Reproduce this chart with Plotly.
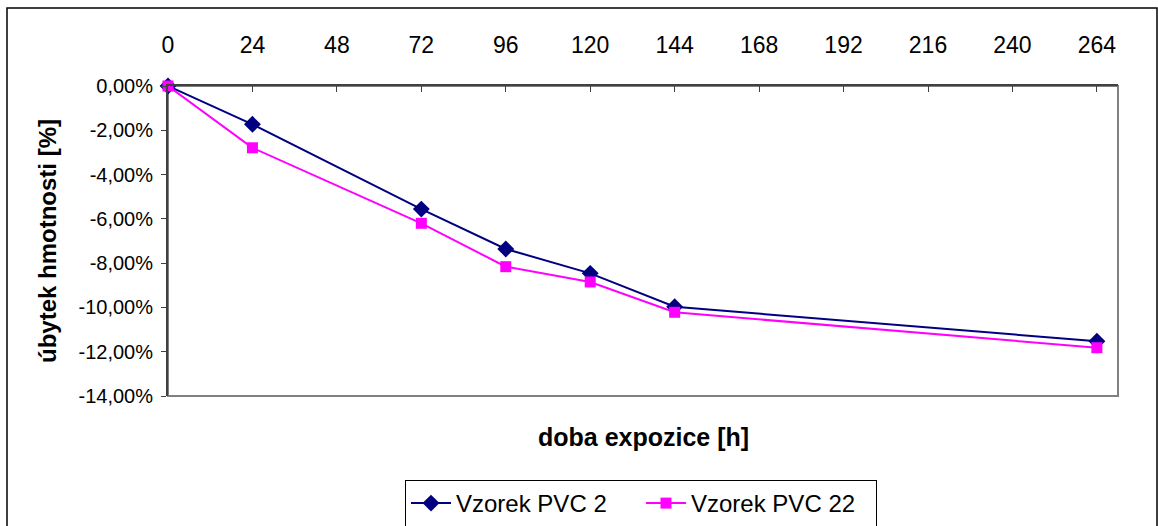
import plotly.graph_objects as go

# Exposure time [h] and mass loss [%]
hours = [0, 24, 72, 96, 120, 144, 264]
pvc_2 = [0.0, -1.73, -5.56, -7.36, -8.46, -9.97, -11.53]
pvc_22 = [0.0, -2.79, -6.20, -8.16, -8.85, -10.22, -11.82]

x_ticks = [0, 24, 48, 72, 96, 120, 144, 168, 192, 216, 240, 264]
y_ticks = [0, -2, -4, -6, -8, -10, -12, -14]
y_ticktext = [f"{v:.2f}".replace(".", ",") + "%" for v in y_ticks]

FONT = "Arial, Liberation Sans, sans-serif"

W, H = 1158, 526
L, R, T, B = 168, 40, 86, 130
PW, PH = W - L - R, H - T - B


def px(x):
    return (x - L) / PW


def py(y):
    return (H - B - y) / PH


fig = go.Figure()
fig.add_trace(go.Scatter(
    x=hours, y=pvc_2, name="Vzorek PVC 2", mode="lines+markers",
    line=dict(color="#000080", width=2),
    marker=dict(symbol="diamond", size=13, color="#000080"),
    cliponaxis=False,
))
fig.add_trace(go.Scatter(
    x=hours, y=pvc_22, name="Vzorek PVC 22", mode="lines+markers",
    line=dict(color="#FF00FF", width=2),
    marker=dict(symbol="square", size=11, color="#FF00FF"),
    cliponaxis=False,
))

fig.update_layout(
    width=W, height=H,
    margin=dict(l=L, r=R, t=T, b=B, autoexpand=False),
    paper_bgcolor="white", plot_bgcolor="white",
    font=dict(family=FONT, color="black"),
    showlegend=True,
    legend=dict(
        orientation="h", x=px(641), xanchor="center", y=py(480), yanchor="top",
        bordercolor="black", borderwidth=1, bgcolor="white",
        font=dict(size=24, family=FONT), itemwidth=40,
        entrywidth=180, entrywidthmode="pixels",
    ),
    xaxis=dict(
        side="top", range=[0, 270], tickvals=x_ticks,
        ticks="inside", ticklen=6, tickcolor="#404040", tickwidth=1,
        showline=True, linecolor="#404040", linewidth=2,
        showgrid=False, zeroline=False,
        tickfont=dict(size=23, family=FONT), ticklabelstandoff=22,
    ),
    yaxis=dict(
        range=[-14, 0], tickvals=y_ticks, ticktext=y_ticktext,
        ticks="outside", ticklen=5, tickcolor="#404040", tickwidth=1,
        showline=True, linecolor="#404040", linewidth=2,
        showgrid=False, zeroline=False,
        tickfont=dict(size=20, family=FONT), ticklabelstandoff=4,
    ),
    shapes=[
        # plot area frame (right and bottom edges in grey)
        dict(type="rect", xref="paper", yref="paper", x0=0, x1=1, y0=0, y1=1,
             line=dict(color="#808080", width=2), layer="below"),
        # chart outer border
        dict(type="rect", xref="paper", yref="paper",
             x0=px(7), x1=px(1157), y0=py(528), y1=py(8),
             line=dict(color="black", width=1.5)),
    ],
    annotations=[
        dict(text="<b>doba expozice [h]</b>", xref="paper", yref="paper",
             x=px(643), y=py(437), xanchor="center", yanchor="middle",
             showarrow=False, font=dict(size=25, family=FONT)),
        dict(text="<b>úbytek hmotnosti [%]</b>", xref="paper", yref="paper",
             x=px(47), y=py(241), xanchor="center", yanchor="middle",
             textangle=-90, showarrow=False, font=dict(size=24, family=FONT)),
    ],
)

fig.write_html("out.html")
